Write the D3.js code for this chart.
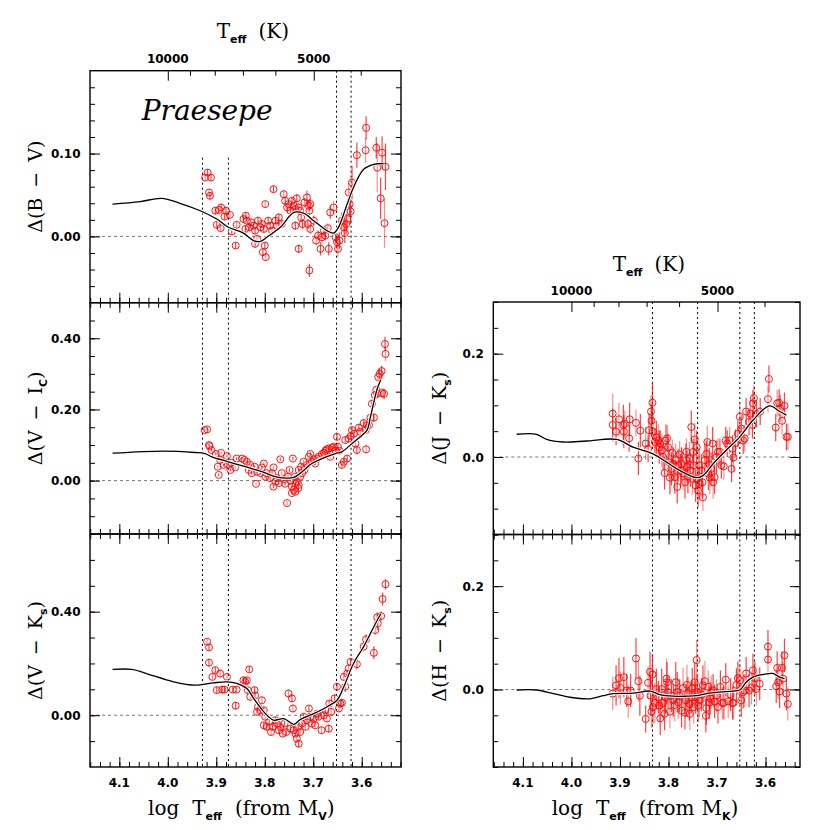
<!DOCTYPE html>
<html><head><meta charset="utf-8">
<script src="https://cdn.jsdelivr.net/npm/d3@7"></script>
<style>body{margin:0;background:#fff}text{white-space:pre}</style>
</head><body><svg id="c" width="830" height="830"></svg>
<script>
// ---------------- DATA ----------------
const logTickLabels = [4.1, 4.0, 3.9, 3.8, 3.7, 3.6];
const teffTickLabels = [10000, 5000];
const teffMinor = [4000, 6000, 7000, 8000, 9000];
const vlinesMV = [3.9285, 3.875, 3.652, 3.622];
const vlinesMK = [3.833, 3.740, 3.653, 3.623];

// [logTeff, delta, error]
const bvPoints = [[3.923,0.071,0.004],[3.918,0.077,0.004],[3.911,0.071,0.004],[3.915,0.053,0.004],[3.913,0.049,0.004],[3.902,0.031,0.004],[3.894,0.032,0.004],[3.890,0.035,0.004],[3.899,0.014,0.004],[3.891,0.010,0.004],[3.880,0.031,0.004],[3.883,0.024,0.004],[3.872,0.026,0.004],[3.868,0.006,0.004],[3.860,-0.011,0.004],[3.858,0.014,0.004],[3.844,0.021,0.004],[3.839,0.025,0.004],[3.837,0.019,0.004],[3.840,0.009,0.004],[3.832,0.011,0.004],[3.828,0.017,0.004],[3.823,0.013,0.004],[3.820,0.007,0.004],[3.816,-0.003,0.004],[3.820,-0.009,0.004],[3.814,0.019,0.004],[3.809,0.011,0.004],[3.806,0.015,0.004],[3.802,0.009,0.004],[3.799,0.039,0.004],[3.800,-0.011,0.004],[3.804,-0.019,0.004],[3.798,-0.025,0.004],[3.793,0.019,0.004],[3.789,0.013,0.004],[3.785,0.007,0.004],[3.782,0.057,0.004],[3.778,0.019,0.004],[3.775,0.013,0.004],[3.771,0.023,0.004],[3.765,0.015,0.004],[3.761,0.051,0.005],[3.758,0.043,0.005],[3.754,0.035,0.005],[3.751,0.039,0.005],[3.747,0.031,0.005],[3.744,0.043,0.005],[3.740,0.037,0.005],[3.737,0.033,0.005],[3.734,0.046,0.005],[3.730,0.035,0.005],[3.737,0.013,0.005],[3.730,-0.015,0.005],[3.727,0.031,0.005],[3.725,0.023,0.006],[3.722,0.015,0.006],[3.718,0.041,0.006],[3.713,0.047,0.008],[3.709,0.037,0.006],[3.708,0.031,0.006],[3.706,0.039,0.006],[3.711,0.015,0.006],[3.706,0.009,0.006],[3.708,-0.041,0.008],[3.699,0.019,0.006],[3.694,-0.005,0.006],[3.690,0.001,0.006],[3.685,-0.015,0.008],[3.682,-0.001,0.006],[3.678,0.007,0.006],[3.675,0.001,0.006],[3.670,0.010,0.006],[3.668,-0.015,0.008],[3.665,0.029,0.008],[3.658,0.035,0.008],[3.654,-0.001,0.008],[3.651,-0.007,0.008],[3.649,-0.015,0.01],[3.646,-0.005,0.01],[3.641,0.019,0.01],[3.637,0.011,0.01],[3.635,0.004,0.012],[3.632,0.015,0.012],[3.630,0.021,0.012],[3.625,0.039,0.015],[3.623,0.030,0.015],[3.627,0.053,0.012],[3.620,0.065,0.02],[3.610,0.098,0.015],[3.592,0.104,0.015],[3.591,0.131,0.014],[3.570,0.107,0.013],[3.568,0.083,0.03],[3.561,0.046,0.025],[3.558,0.101,0.02],[3.553,0.016,0.03],[3.551,0.084,0.028]];
const bvCurve = [[4.114,0.039],[4.057,0.042],[4.013,0.046],[3.975,0.040],[3.933,0.031],[3.899,0.021],[3.875,0.011],[3.844,0.004],[3.823,-0.005],[3.809,-0.006],[3.796,-0.001],[3.768,0.011],[3.740,0.029],[3.720,0.028],[3.699,0.019],[3.672,0.007],[3.658,0.004],[3.648,0.011],[3.630,0.039],[3.617,0.059],[3.596,0.081],[3.575,0.087],[3.555,0.088]];

const viPoints = [[3.924,0.142,0.004],[3.919,0.144,0.004],[3.915,0.100,0.004],[3.914,0.097,0.004],[3.910,0.086,0.004],[3.901,0.075,0.004],[3.897,0.039,0.004],[3.895,0.016,0.004],[3.892,0.058,0.004],[3.890,0.078,0.004],[3.885,0.044,0.004],[3.878,0.069,0.004],[3.876,0.044,0.004],[3.871,0.030,0.004],[3.869,0.050,0.004],[3.861,0.037,0.004],[3.858,0.062,0.004],[3.847,0.062,0.004],[3.842,0.058,0.004],[3.837,0.053,0.004],[3.833,0.030,0.004],[3.830,0.044,0.004],[3.827,0.021,0.004],[3.821,0.039,0.004],[3.816,0.025,0.004],[3.809,0.021,0.004],[3.806,0.037,0.004],[3.802,0.048,0.004],[3.799,0.011,0.004],[3.796,0.021,0.004],[3.818,-0.009,0.004],[3.789,0.007,0.005],[3.785,0.021,0.005],[3.782,0.037,0.005],[3.782,-0.017,0.005],[3.778,-0.003,0.005],[3.775,0.007,0.005],[3.771,-0.007,0.005],[3.768,0.060,0.005],[3.765,0.021,0.005],[3.761,0.004,0.005],[3.758,-0.009,0.005],[3.754,-0.063,0.006],[3.752,0.011,0.005],[3.749,0.030,0.005],[3.747,0.000,0.005],[3.744,-0.017,0.005],[3.742,0.062,0.005],[3.740,-0.026,0.005],[3.738,0.011,0.005],[3.737,-0.007,0.005],[3.734,-0.003,0.005],[3.731,-0.021,0.005],[3.744,-0.035,0.005],[3.737,-0.031,0.005],[3.730,-0.012,0.005],[3.730,0.030,0.005],[3.727,0.011,0.005],[3.725,0.039,0.005],[3.723,0.021,0.005],[3.720,0.053,0.005],[3.718,0.030,0.005],[3.713,0.044,0.005],[3.709,0.067,0.005],[3.706,0.075,0.005],[3.703,0.053,0.005],[3.699,0.060,0.005],[3.696,0.048,0.005],[3.692,0.062,0.005],[3.689,0.067,0.005],[3.682,0.075,0.005],[3.678,0.078,0.005],[3.675,0.084,0.005],[3.672,0.088,0.005],[3.668,0.090,0.005],[3.665,0.067,0.006],[3.661,0.093,0.006],[3.658,0.095,0.006],[3.654,0.084,0.006],[3.651,0.123,0.008],[3.649,0.095,0.008],[3.646,0.084,0.008],[3.641,0.044,0.008],[3.637,0.053,0.008],[3.634,0.114,0.008],[3.630,0.062,0.008],[3.627,0.118,0.008],[3.623,0.125,0.01],[3.620,0.142,0.01],[3.616,0.132,0.01],[3.613,0.104,0.01],[3.610,0.086,0.012],[3.606,0.149,0.01],[3.603,0.137,0.01],[3.596,0.162,0.01],[3.592,0.142,0.01],[3.591,0.088,0.012],[3.589,0.156,0.01],[3.585,0.156,0.01],[3.582,0.177,0.01],[3.579,0.216,0.012],[3.575,0.177,0.012],[3.573,0.240,0.012],[3.570,0.255,0.012],[3.568,0.244,0.012],[3.566,0.291,0.015],[3.563,0.300,0.015],[3.559,0.308,0.015],[3.558,0.246,0.015],[3.554,0.244,0.015],[3.552,0.384,0.02],[3.551,0.356,0.02]];
const viCurve = [[4.114,0.077],[4.009,0.083],[3.944,0.079],[3.923,0.076],[3.909,0.067],[3.875,0.053],[3.840,0.039],[3.806,0.025],[3.778,0.011],[3.765,0.008],[3.740,0.009],[3.723,0.025],[3.703,0.048],[3.682,0.062],[3.654,0.076],[3.641,0.081],[3.620,0.104],[3.599,0.128],[3.589,0.142],[3.582,0.179],[3.575,0.221],[3.568,0.258],[3.561,0.283]];

const vkPoints = [[3.919,0.284,0.012],[3.915,0.262,0.012],[3.915,0.203,0.015],[3.908,0.148,0.012],[3.902,0.174,0.012],[3.899,0.097,0.012],[3.892,0.161,0.015],[3.888,0.099,0.015],[3.883,0.099,0.012],[3.878,0.148,0.015],[3.866,0.099,0.012],[3.860,0.037,0.015],[3.858,0.099,0.012],[3.844,0.135,0.012],[3.840,0.129,0.012],[3.837,0.135,0.012],[3.832,0.177,0.012],[3.835,0.097,0.012],[3.830,0.071,0.012],[3.821,0.097,0.012],[3.820,0.077,0.012],[3.816,0.013,0.012],[3.814,0.032,0.012],[3.809,0.019,0.012],[3.806,0.058,0.012],[3.802,0.019,0.012],[3.802,-0.039,0.012],[3.799,-0.006,0.012],[3.796,-0.045,0.012],[3.791,-0.026,0.012],[3.787,-0.065,0.012],[3.784,-0.045,0.012],[3.778,-0.019,0.012],[3.775,-0.032,0.012],[3.771,-0.058,0.012],[3.768,-0.045,0.012],[3.763,-0.071,0.012],[3.759,-0.032,0.012],[3.756,-0.065,0.012],[3.751,0.084,0.015],[3.747,-0.052,0.012],[3.744,0.065,0.015],[3.742,0.026,0.015],[3.740,-0.058,0.012],[3.737,-0.071,0.012],[3.734,-0.090,0.015],[3.730,-0.110,0.015],[3.731,-0.045,0.012],[3.727,-0.065,0.012],[3.723,-0.032,0.012],[3.720,-0.006,0.012],[3.716,-0.045,0.012],[3.713,-0.019,0.012],[3.709,0.026,0.012],[3.706,-0.006,0.012],[3.703,-0.032,0.012],[3.699,-0.013,0.012],[3.696,-0.039,0.012],[3.692,0.006,0.012],[3.689,-0.006,0.012],[3.683,-0.058,0.015],[3.678,0.000,0.012],[3.675,0.019,0.012],[3.672,-0.013,0.012],[3.668,-0.052,0.015],[3.667,0.045,0.012],[3.663,0.013,0.015],[3.656,0.065,0.015],[3.651,0.110,0.015],[3.647,0.026,0.015],[3.644,0.045,0.015],[3.641,0.048,0.015],[3.637,0.148,0.015],[3.634,0.110,0.02],[3.630,0.161,0.015],[3.627,0.181,0.015],[3.623,0.206,0.015],[3.610,0.197,0.02],[3.596,0.265,0.02],[3.591,0.293,0.02],[3.575,0.241,0.025],[3.572,0.329,0.02],[3.567,0.355,0.025],[3.568,0.378,0.02],[3.560,0.383,0.02],[3.557,0.449,0.025],[3.551,0.506,0.02]];
const vkCurve = [[4.114,0.177],[4.074,0.177],[4.044,0.161],[3.988,0.129],[3.944,0.116],[3.906,0.125],[3.878,0.129],[3.858,0.123],[3.837,0.103],[3.823,0.065],[3.802,0.013],[3.782,-0.019],[3.761,-0.013],[3.740,-0.035],[3.727,-0.017],[3.699,0.006],[3.672,0.032],[3.651,0.058],[3.637,0.110],[3.617,0.200],[3.596,0.265],[3.575,0.342],[3.561,0.391]];

const jkPoints = [[3.915,0.084,0.039],[3.915,0.062,0.032],[3.908,0.049,0.026],[3.902,0.073,0.032],[3.893,0.062,0.039],[3.892,0.049,0.032],[3.890,0.064,0.026],[3.881,0.036,0.026],[3.880,0.073,0.032],[3.867,0.066,0.026],[3.862,-0.003,0.032],[3.858,0.051,0.032],[3.847,0.026,0.032],[3.842,0.016,0.026],[3.840,0.052,0.032],[3.836,0.088,0.032],[3.835,0.070,0.032],[3.833,0.105,0.039],[3.832,0.049,0.032],[3.828,0.029,0.026],[3.825,0.038,0.032],[3.821,0.032,0.032],[3.819,0.019,0.032],[3.817,0.026,0.026],[3.814,0.013,0.032],[3.811,0.000,0.026],[3.808,-0.031,0.032],[3.806,0.032,0.032],[3.803,0.036,0.026],[3.801,0.019,0.026],[3.799,-0.010,0.032],[3.797,-0.040,0.032],[3.794,-0.023,0.032],[3.792,0.008,0.026],[3.790,-0.013,0.032],[3.787,-0.039,0.032],[3.785,-0.006,0.032],[3.782,-0.058,0.032],[3.780,-0.016,0.032],[3.777,0.005,0.026],[3.775,-0.026,0.032],[3.773,-0.013,0.032],[3.770,-0.032,0.032],[3.766,-0.049,0.032],[3.764,-0.006,0.032],[3.763,0.010,0.026],[3.762,-0.019,0.032],[3.760,-0.038,0.032],[3.757,-0.003,0.032],[3.755,-0.026,0.032],[3.753,0.058,0.032],[3.751,-0.042,0.032],[3.749,0.010,0.026],[3.748,-0.016,0.032],[3.746,0.034,0.032],[3.744,-0.055,0.032],[3.742,0.019,0.032],[3.741,-0.042,0.032],[3.739,-0.065,0.032],[3.737,-0.016,0.032],[3.736,-0.052,0.032],[3.732,-0.026,0.032],[3.730,-0.049,0.032],[3.729,-0.078,0.026],[3.725,-0.006,0.032],[3.722,0.006,0.026],[3.720,0.029,0.032],[3.718,-0.032,0.032],[3.716,-0.014,0.032],[3.715,-0.040,0.032],[3.712,-0.023,0.032],[3.709,0.026,0.032],[3.708,-0.049,0.032],[3.705,-0.039,0.032],[3.701,0.000,0.032],[3.698,0.010,0.026],[3.694,0.010,0.026],[3.691,-0.016,0.026],[3.686,-0.018,0.026],[3.682,0.032,0.026],[3.679,0.026,0.026],[3.674,0.032,0.026],[3.670,-0.023,0.026],[3.668,0.016,0.026],[3.666,-0.001,0.026],[3.662,0.027,0.026],[3.657,0.045,0.026],[3.653,0.078,0.026],[3.650,0.055,0.026],[3.646,0.032,0.026],[3.643,0.036,0.026],[3.640,0.088,0.026],[3.634,0.068,0.026],[3.631,0.084,0.026],[3.627,0.062,0.026],[3.626,0.104,0.026],[3.624,0.114,0.026],[3.619,0.083,0.026],[3.611,0.088,0.026],[3.595,0.112,0.026],[3.593,0.151,0.026],[3.579,0.057,0.026],[3.576,0.104,0.026],[3.572,0.105,0.026],[3.570,0.094,0.026],[3.566,0.070,0.026],[3.561,0.099,0.026],[3.557,0.039,0.026],[3.554,0.039,0.026]];
const jkCurve = [[4.113,0.044],[4.072,0.044],[4.051,0.034],[4.017,0.029],[3.969,0.031],[3.907,0.034],[3.873,0.019],[3.832,0.006],[3.804,-0.010],[3.777,-0.026],[3.742,-0.040],[3.729,-0.036],[3.708,-0.013],[3.681,0.013],[3.653,0.039],[3.626,0.071],[3.592,0.099],[3.571,0.088],[3.557,0.081]];

const hkPoints = [[3.915,-0.008,0.032],[3.908,0.008,0.039],[3.902,0.022,0.039],[3.899,0.003,0.032],[3.892,0.024,0.039],[3.886,-0.002,0.032],[3.883,-0.023,0.032],[3.878,-0.002,0.032],[3.867,0.060,0.039],[3.862,0.016,0.039],[3.859,-0.012,0.039],[3.847,-0.057,0.026],[3.842,0.013,0.032],[3.838,0.034,0.039],[3.837,-0.012,0.039],[3.835,-0.043,0.032],[3.833,0.029,0.039],[3.832,-0.034,0.032],[3.828,-0.026,0.039],[3.825,0.001,0.039],[3.821,-0.015,0.032],[3.819,-0.031,0.032],[3.817,-0.056,0.032],[3.814,0.001,0.039],[3.811,-0.026,0.032],[3.808,-0.047,0.032],[3.806,-0.015,0.032],[3.804,0.021,0.039],[3.803,0.014,0.039],[3.801,-0.005,0.032],[3.797,-0.043,0.032],[3.794,-0.012,0.032],[3.790,-0.021,0.032],[3.787,-0.030,0.032],[3.785,0.014,0.039],[3.782,-0.005,0.039],[3.780,-0.025,0.032],[3.777,-0.012,0.032],[3.773,-0.041,0.032],[3.770,0.003,0.039],[3.766,-0.045,0.032],[3.764,-0.021,0.032],[3.762,0.009,0.039],[3.760,-0.008,0.032],[3.757,-0.028,0.032],[3.756,-0.047,0.032],[3.753,-0.015,0.032],[3.751,0.003,0.039],[3.748,-0.034,0.032],[3.746,0.014,0.039],[3.744,-0.015,0.032],[3.742,0.057,0.039],[3.741,-0.004,0.032],[3.739,-0.031,0.032],[3.736,-0.021,0.032],[3.732,-0.010,0.032],[3.729,0.008,0.039],[3.725,0.016,0.039],[3.723,-0.051,0.032],[3.722,-0.036,0.032],[3.718,0.005,0.032],[3.716,-0.025,0.032],[3.714,-0.017,0.032],[3.712,-0.005,0.032],[3.708,-0.002,0.032],[3.705,-0.023,0.032],[3.701,-0.012,0.032],[3.698,-0.034,0.032],[3.693,0.005,0.032],[3.689,-0.026,0.032],[3.686,-0.026,0.032],[3.682,0.019,0.032],[3.677,-0.023,0.032],[3.672,-0.010,0.032],[3.668,-0.026,0.032],[3.666,-0.026,0.032],[3.660,0.009,0.032],[3.657,0.022,0.032],[3.653,0.018,0.032],[3.650,-0.021,0.032],[3.646,-0.005,0.032],[3.643,-0.002,0.032],[3.640,0.031,0.032],[3.634,-0.002,0.032],[3.629,0.003,0.032],[3.626,0.037,0.032],[3.622,0.022,0.032],[3.619,0.001,0.032],[3.612,0.011,0.032],[3.595,0.083,0.032],[3.595,0.058,0.032],[3.578,0.006,0.032],[3.576,0.042,0.032],[3.574,0.014,0.032],[3.571,-0.004,0.032],[3.566,0.042,0.032],[3.564,0.021,0.032],[3.561,0.066,0.032],[3.557,-0.008,0.032],[3.554,-0.028,0.032]];
const hkCurve = [[4.113,-0.001],[4.072,-0.001],[4.037,-0.008],[4.003,-0.015],[3.962,-0.018],[3.935,-0.012],[3.914,-0.008],[3.873,-0.007],[3.838,-0.003],[3.818,-0.010],[3.790,-0.013],[3.763,-0.013],[3.742,-0.012],[3.722,-0.008],[3.694,-0.005],[3.667,-0.003],[3.653,-0.001],[3.640,0.014],[3.626,0.024],[3.605,0.029],[3.585,0.031],[3.571,0.024],[3.561,0.021]];

// ---------------- DRAW ----------------
const svg = d3.select("#c");
const serif = "DejaVu Serif";
const sans = "DejaVu Sans";

const xL = d3.scaleLinear().domain([4.1605, 3.519]).range([90, 401]);
const xR = d3.scaleLinear().domain([4.161, 3.529]).range([493.3, 800]);
const logMinorAll = d3.range(3.52, 4.161, 0.02).map(v => +v.toFixed(2));

function richText(sel, segs) {
  segs.forEach((s, i) => {
    const t = sel.append("tspan").text(s.t);
    let dy = 0;
    if (s.sub) { dy += 5; }
    if (i > 0 && segs[i-1].sub) { dy -= 5; }
    if (dy) t.attr("dy", dy);
    if (s.dx) t.attr("dx", s.dx);
    if (s.sub) t.attr("font-family", sans).attr("font-weight", "bold").attr("font-size", s.size || 11);
  });
}

let clipN = 0;
function drawPanel(p) {
  const x = p.x, y = p.y;
  const [x0, x1] = x.range();
  const [y1, y0] = y.range();
  const dom = x.domain();
  const logMinor = logMinorAll.filter(v => v <= dom[0] && v >= dom[1]);
  const g = svg.append("g");
  const id = "clip" + (clipN++);
  svg.append("clipPath").attr("id", id).append("rect")
    .attr("x", x0).attr("y", y0).attr("width", x1 - x0).attr("height", y1 - y0);
  const inner = g.append("g").attr("clip-path", `url(#${id})`);

  inner.append("line").attr("x1", x0).attr("x2", x1).attr("y1", y(0)).attr("y2", y(0))
    .attr("stroke", "#777").attr("stroke-width", 1).attr("stroke-dasharray", "3,3");

  p.vlines.forEach((v, i) => {
    const top = (p.vcut && p.vcut[i] != null) ? y(p.vcut[i]) : y0;
    inner.append("line").attr("x1", x(v)).attr("x2", x(v)).attr("y1", top).attr("y2", y1)
      .attr("stroke", "#000").attr("stroke-width", 1).attr("stroke-dasharray", "2,3");
  });

  inner.append("g").selectAll("line").data(p.pts).join("line")
    .attr("x1", d => x(d[0])).attr("x2", d => x(d[0]))
    .attr("y1", d => y(d[1] - d[2])).attr("y2", d => y(d[1] + d[2]))
    .attr("stroke", "#ff0000").attr("stroke-width", 1.2)
    .attr("stroke-opacity", (d, i) => i % 3 === 0 ? 0.45 : 0.75);
  inner.append("g").selectAll("circle").data(p.pts).join("circle")
    .attr("cx", d => x(d[0])).attr("cy", d => y(d[1])).attr("r", 3.5)
    .attr("fill", "none").attr("stroke", "#ff0000").attr("stroke-width", 1).attr("stroke-opacity", 0.9);

  const line = d3.line().x(d => x(d[0])).y(d => y(d[1])).curve(d3.curveCatmullRom.alpha(0.5));
  inner.append("path").attr("d", line(p.curve)).attr("fill", "none").attr("stroke", "#fff").attr("stroke-width", 3.2);
  inner.append("path").attr("d", line(p.curve)).attr("fill", "none").attr("stroke", "#000").attr("stroke-width", 1.3);

  const clean = a => { a.select(".domain").remove(); a.selectAll(".tick line").attr("stroke", "#000").attr("stroke-width", 1); };
  g.append("g").attr("transform", `translate(0,${y1})`).call(d3.axisTop(x).tickValues(logTickLabels).tickSize(10).tickSizeOuter(0).tickFormat("")).call(clean);
  g.append("g").attr("transform", `translate(0,${y1})`).call(d3.axisTop(x).tickValues(logMinor).tickSize(5).tickSizeOuter(0).tickFormat("")).call(clean);
  if (p.teff) {
    const xt = d3.scaleLog().domain(dom.map(v => Math.pow(10, v))).range(x.range());
    g.append("g").attr("transform", `translate(0,${y0})`).call(d3.axisBottom(xt).tickValues(teffTickLabels).tickSize(10).tickSizeOuter(0).tickFormat("")).call(clean);
    g.append("g").attr("transform", `translate(0,${y0})`).call(d3.axisBottom(xt).tickValues(teffMinor).tickSize(5).tickSizeOuter(0).tickFormat("")).call(clean);
    g.append("g").selectAll("text").data(teffTickLabels).join("text")
      .attr("x", d => xt(d)).attr("y", y0 - 7.5).attr("text-anchor", "middle")
      .attr("font-family", sans).attr("font-weight", "bold").attr("font-size", 12).text(d => d);
    const tt = g.append("text").attr("x", p.teffTitle[0]).attr("y", p.teffTitle[1])
      .attr("font-family", serif).attr("font-size", 20);
    richText(tt, [{t: "T"}, {t: "eff", sub: true}, {t: "(K)", dx: 12}]);
  } else {
    g.append("g").attr("transform", `translate(0,${y0})`).call(d3.axisBottom(x).tickValues(logTickLabels).tickSize(10).tickSizeOuter(0).tickFormat("")).call(clean);
    g.append("g").attr("transform", `translate(0,${y0})`).call(d3.axisBottom(x).tickValues(logMinor).tickSize(5).tickSizeOuter(0).tickFormat("")).call(clean);
  }
  g.append("g").attr("transform", `translate(${x0},0)`).call(d3.axisRight(y).tickValues(p.yMajor).tickSize(10).tickSizeOuter(0).tickFormat("")).call(clean);
  g.append("g").attr("transform", `translate(${x0},0)`).call(d3.axisRight(y).tickValues(p.yMinor).tickSize(5).tickSizeOuter(0).tickFormat("")).call(clean);
  g.append("g").attr("transform", `translate(${x1},0)`).call(d3.axisLeft(y).tickValues(p.yMajor).tickSize(10).tickSizeOuter(0).tickFormat("")).call(clean);
  g.append("g").attr("transform", `translate(${x1},0)`).call(d3.axisLeft(y).tickValues(p.yMinor).tickSize(5).tickSizeOuter(0).tickFormat("")).call(clean);
  g.append("g").selectAll("text").data(p.yLabels).join("text")
    .attr("x", x0 - 9.5).attr("y", d => y(d) + 4.5).attr("text-anchor", "end")
    .attr("font-family", sans).attr("font-weight", "bold").attr("font-size", 12).text(d => d3.format(p.fmt)(d));

  if (p.bottom) {
    g.append("g").selectAll("text").data(logTickLabels).join("text")
      .attr("x", d => x(d)).attr("y", y1 + 20).attr("text-anchor", "middle")
      .attr("font-family", sans).attr("font-weight", "bold").attr("font-size", 12).text(d => d.toFixed(1));
    const bt = g.append("text").attr("x", p.bottom[0]).attr("y", p.bottom[1])
      .attr("font-family", serif).attr("font-size", 20);
    richText(bt, [{t: "log"}, {t: "T", dx: 13}, {t: "eff", sub: true}, {t: "(from", dx: 13}, {t: "M", dx: 7}, {t: p.bottom[2], sub: true}, {t: ")"}]);
  }

  g.append("rect").attr("x", x0).attr("y", y0).attr("width", x1 - x0).attr("height", y1 - y0)
    .attr("fill", "none").attr("stroke", "#000").attr("stroke-width", 1.4);

  const yc = (y0 + y1) / 2;
  const lt = g.append("text").attr("transform", `translate(${p.ylabelX},${yc}) rotate(-90)`)
    .attr("text-anchor", "middle").attr("font-family", serif).attr("font-size", 19);
  richText(lt, p.ylabel);
}

drawPanel({x: xL, y: d3.scaleLinear().domain([-0.08, 0.2]).range([302.7, 70.7]),
  yMajor: [0, 0.1], yMinor: d3.range(-0.06, 0.2, 0.02), yLabels: [0, 0.1], fmt: ".2f",
  vlines: vlinesMV, vcut: [0.095, 0.095, null, null], pts: bvPoints, curve: bvCurve,
  teff: true, teffTitle: [216.7, 38.3], ylabelX: 42,
  ylabel: [{t: "Δ(B"}, {t: "−", dx: 10}, {t: "V)", dx: 10}]});
drawPanel({x: xL, y: d3.scaleLinear().domain([-0.15, 0.5]).range([534, 302.7]),
  yMajor: [0, 0.2, 0.4], yMinor: d3.range(-0.15, 0.5, 0.05), yLabels: [0, 0.2, 0.4], fmt: ".2f",
  vlines: vlinesMV, pts: viPoints, curve: viCurve, ylabelX: 42,
  ylabel: [{t: "Δ(V"}, {t: "−", dx: 10}, {t: "I", dx: 10}, {t: "C", sub: true}, {t: ")"}]});
drawPanel({x: xL, y: d3.scaleLinear().domain([-0.2, 0.7]).range([767, 534]),
  yMajor: [0, 0.4], yMinor: d3.range(-0.1, 0.7, 0.1), yLabels: [0, 0.4], fmt: ".2f",
  vlines: vlinesMV, pts: vkPoints, curve: vkCurve, ylabelX: 42,
  bottom: [148, 815, "V"],
  ylabel: [{t: "Δ(V"}, {t: "−", dx: 10}, {t: "K", dx: 10}, {t: "s", sub: true}, {t: ")"}]});
drawPanel({x: xR, y: d3.scaleLinear().domain([-0.15, 0.3]).range([534.5, 302]),
  yMajor: [0, 0.2], yMinor: d3.range(-0.15, 0.31, 0.05), yLabels: [0, 0.2], fmt: ".1f",
  vlines: vlinesMK, pts: jkPoints, curve: jkCurve, teff: true, teffTitle: [612.7, 270.7], ylabelX: 446,
  ylabel: [{t: "Δ(J"}, {t: "−", dx: 10}, {t: "K", dx: 10}, {t: "s", sub: true}, {t: ")"}]});
drawPanel({x: xR, y: d3.scaleLinear().domain([-0.15, 0.3]).range([767, 534.5]),
  yMajor: [0, 0.2], yMinor: d3.range(-0.15, 0.31, 0.05), yLabels: [0, 0.2], fmt: ".1f",
  vlines: vlinesMK, pts: hkPoints, curve: hkCurve, ylabelX: 446,
  bottom: [551.7, 815, "K"],
  ylabel: [{t: "Δ(H"}, {t: "−", dx: 10}, {t: "K", dx: 10}, {t: "s", sub: true}, {t: ")"}]});

svg.append("text").attr("x", 141.7).attr("y", 120).attr("font-family", serif).attr("font-style", "italic")
  .attr("font-size", 28).text("Praesepe");
</script></body></html>
